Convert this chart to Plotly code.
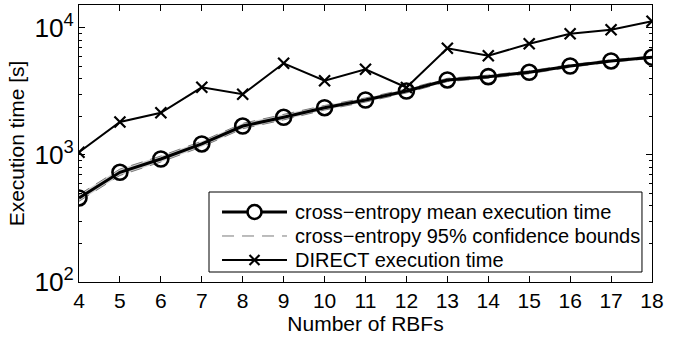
import plotly.graph_objects as go

# Number of radial basis functions
rbfs = [4, 5, 6, 7, 8, 9, 10, 11, 12, 13, 14, 15, 16, 17, 18]

# Cross-entropy: mean execution time [s]
ce_mean = [459, 731, 930, 1221, 1691, 1980, 2357, 2710, 3190, 3896, 4137, 4478, 5020, 5500, 5880]
# Cross-entropy: 95% confidence bounds [s]
ce_lower = [432, 690, 880, 1160, 1610, 1890, 2260, 2610, 3080, 3780, 4020, 4360, 4900, 5380, 5760]
ce_upper = [488, 775, 982, 1285, 1775, 2075, 2455, 2815, 3305, 4015, 4255, 4600, 5145, 5625, 6005]

# DIRECT execution time [s]
direct = [1050, 1820, 2150, 3410, 3005, 5270, 3846, 4730, 3400, 6920, 6050, 7520, 9020, 9700, 11290]

legend_labels = [
    "cross\u2212entropy mean execution time",
    "cross\u2212entropy 95% confidence bounds",
    "DIRECT execution time",
]

FONT = "Liberation Sans, Arial, Helvetica, sans-serif"
BAND = "#7a7a7a"

fig = go.Figure()

fig.add_trace(go.Scatter(
    x=rbfs, y=ce_lower, mode="lines",
    line=dict(color=BAND, width=1, dash="12px,8px"),
    name=legend_labels[1], showlegend=False,
))
fig.add_trace(go.Scatter(
    x=rbfs, y=ce_upper, mode="lines",
    line=dict(color=BAND, width=1, dash="12px,8px"),
    fill="tonexty", fillcolor="rgba(170,170,170,0.55)",
    name=legend_labels[1], showlegend=False,
))
fig.add_trace(go.Scatter(
    x=rbfs, y=ce_mean, mode="lines+markers",
    line=dict(color="black", width=3),
    marker=dict(symbol="circle-open", size=15, color="black", line=dict(width=2.6)),
    name=legend_labels[0], showlegend=False,
))
fig.add_trace(go.Scatter(
    x=rbfs, y=direct, mode="lines+markers",
    line=dict(color="black", width=2),
    marker=dict(symbol="x-thin-open", size=11, color="black", line=dict(width=2.2, color="black")),
    name=legend_labels[2], showlegend=False,
))

axis_common = dict(
    showline=True, linecolor="black", linewidth=1, mirror="ticks",
    ticks="inside", ticklen=6, tickcolor="black", tickwidth=1,
    showgrid=False, zeroline=False,
    tickfont=dict(family=FONT, size=21, color="black"),
    title_font=dict(family=FONT, size=21, color="black"),
)

fig.update_xaxes(
    range=[4, 18], tickmode="array", tickvals=rbfs,
    title=dict(text="Number of RBFs", standoff=3),
    **axis_common,
)
fig.update_yaxes(
    type="log", range=[2, 4.181], dtick=1,
    exponentformat="power", showexponent="all",
    minor=dict(ticks="inside", ticklen=3, tickcolor="black", dtick="D1", showgrid=False),
    title=dict(text="Execution time [s]", standoff=4),
    **axis_common,
)

# ---- Legend box drawn in paper coordinates (MATLAB-style wide key samples) ----
box_x0, box_x1 = 0.2269, 0.9825
box_y0, box_y1 = 0.0361, 0.3249
row_y = [0.2527, 0.1661, 0.0794]
key_x0, key_x1 = 0.2496, 0.3630
key_xc = (key_x0 + key_x1) / 2
text_x = 0.3735

shapes = [
    dict(type="rect", xref="paper", yref="paper", x0=box_x0, x1=box_x1, y0=box_y0, y1=box_y1,
         line=dict(color="black", width=1), fillcolor="white", layer="above"),
    # mean: thick line with open circle
    dict(type="line", xref="paper", yref="paper", x0=key_x0, x1=key_x1, y0=row_y[0], y1=row_y[0],
         line=dict(color="black", width=3), layer="above"),
    dict(type="circle", xref="paper", yref="paper", xsizemode="pixel", ysizemode="pixel",
         xanchor=key_xc, yanchor=row_y[0], x0=-7, x1=7, y0=-7, y1=7,
         line=dict(color="black", width=2.6), fillcolor="white", layer="above"),
    # confidence bounds: gray dashed
    dict(type="line", xref="paper", yref="paper", x0=key_x0, x1=key_x1, y0=row_y[1], y1=row_y[1],
         line=dict(color=BAND, width=1, dash="12px,8px"), layer="above"),
    # DIRECT: line with x marker
    dict(type="line", xref="paper", yref="paper", x0=key_x0, x1=key_x1, y0=row_y[2], y1=row_y[2],
         line=dict(color="black", width=2), layer="above"),
    dict(type="line", xref="paper", yref="paper", xsizemode="pixel", ysizemode="pixel",
         xanchor=key_xc, yanchor=row_y[2], x0=-5, x1=5, y0=-5, y1=5,
         line=dict(color="black", width=2.2), layer="above"),
    dict(type="line", xref="paper", yref="paper", xsizemode="pixel", ysizemode="pixel",
         xanchor=key_xc, yanchor=row_y[2], x0=-5, x1=5, y0=5, y1=-5,
         line=dict(color="black", width=2.2), layer="above"),
]

annotations = [
    dict(text=lbl, x=text_x, y=yy, xref="paper", yref="paper", xanchor="left", yanchor="middle",
         showarrow=False, font=dict(family=FONT, size=20, color="black"))
    for lbl, yy in zip(legend_labels, row_y)
]

fig.update_layout(
    width=678, height=339,
    margin=dict(l=79, r=26, t=5, b=57),
    paper_bgcolor="white", plot_bgcolor="white",
    font=dict(family=FONT, size=20, color="black"),
    showlegend=False,
    shapes=shapes,
    annotations=annotations,
)

fig.write_html("out.html")
